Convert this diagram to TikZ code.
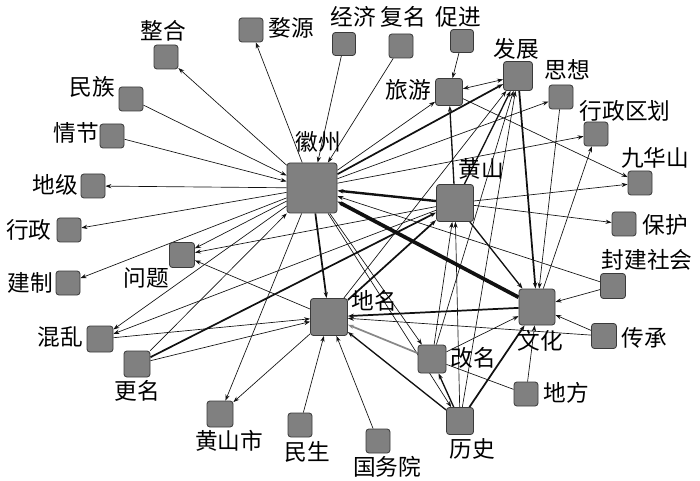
\documentclass[tikz,border=0pt]{standalone}
\usepackage{fontspec}
\usepackage{tikz}
\usetikzlibrary{arrows.meta, backgrounds}
\newfontfamily\cjk{Noto Sans CJK SC}
\definecolor{kGrey}{HTML}{808080}
\definecolor{kEdge}{HTML}{3A3A3A}
\definecolor{kLink}{HTML}{111111}

\begin{document}
\begin{tikzpicture}[x=0.75pt, y=-0.75pt, >={Stealth[length=4.5pt, width=3.2pt]},
    kw/.style={draw=kEdge, fill=kGrey, line width=0.6pt, rounded corners=2.2pt,
               inner sep=0pt, minimum size=#1*0.75pt},
    lbl/.style={font=\cjk\fontsize{17}{19}\selectfont, inner sep=0pt},
    link/.style={->, kLink, line width=#1}]
  \useasboundingbox (0,0) rectangle (700,481);
  % keyword boxes (name/x/y/size) and their labels (x/y/text)
  \foreach \n/\px/\py/\s/\lx/\ly/\t in {
      huizhou/312/188/50/318/142/徽州, huangshan/455/203/37/481/169/黄山,
      diming/329/317/37/374/301/地名, wenhua/537/307/36/540/341/文化,
      fazhan/518/76/29/516/49/发展, lvyou/449/92/27/408/90/旅游,
      wuyuan/251/30/24/291/28/婺源, jingji/344/44/23/353/17/经济,
      fuming/401/46/24/403/17/复名, cujin/462/41/23/458/17/促进,
      zhenghe/166/57/24/163/31/整合, minzu/131/99/24/92/87/民族,
      qingjie/112/136/24/76/133/情节, diji/93/186/24/55/185/地级,
      xingzheng/69/230/24/29/230/行政, jianzhi/68/283/24/30/283/建制,
      wenti/182/255/25/146/278/问题, hunluan/100/339/26/60/337/混乱,
      gengming/137/364/26/137/391/更名, hsshi/220/414/26/229/441/黄山市,
      minsheng/300/425/24/307/452/民生, guowuyuan/378/441/24/387/467/国务院,
      lishi/460/421/27/472/449/历史, gaiming/432/359/28/473/358/改名,
      difang/526/394/24/566/393/地方, chuancheng/604/336/25/644/338/传承,
      fengjian/613/286/25/647/260/封建社会, baohu/624/224/24/665/225/保护,
      jiuhua/640/183/24/655/158/九华山, quhua/596/134/24/625/111/行政区划,
      sixiang/561/97/24/567/70/思想}{
    \node[kw=\s] (\n) at (\px,\py) {};
    \node[lbl] (\n-l) at (\lx,\ly) {\t};
  }
  \begin{scope}[on background layer]
    % links, arrow at the second node
    \foreach \a/\b/\w in {
        huizhou/wuyuan/0.5, jingji/huizhou/0.5, fuming/huizhou/0.5,
        huizhou/zhenghe/0.5, minzu/huizhou/0.5, qingjie/huizhou/0.5,
        huizhou/diji/0.5, huizhou/xingzheng/0.5, huizhou/jianzhi/0.5,
        huizhou/wenti/0.5, huizhou/hunluan/0.5, gengming/huizhou/0.5,
        huizhou/hsshi/0.5, huizhou/diming/1.3, wenhua/huizhou/2.8,
        huangshan/huizhou/1.8, huizhou/lvyou/0.5, huizhou/fazhan/1.3,
        huizhou/sixiang/0.5, huizhou/quhua/0.5, fengjian/huizhou/0.5,
        huizhou/gaiming/0.5, huizhou/lishi/0.5,
        huangshan/wenti/0.5, huangshan/hunluan/0.5, gengming/huangshan/1.3,
        gengming/diming/0.5, hunluan/diming/0.5, diming/hsshi/0.5,
        minsheng/diming/0.5, guowuyuan/diming/0.5, wenhua/diming/1.3,
        chuancheng/diming/0.5, lishi/diming/1, diming/huangshan/1.3,
        diming/wenti/0.5, diming/fazhan/0.5,
        huangshan/lvyou/1, huangshan/fazhan/1, huangshan/jiuhua/0.5,
        huangshan/baohu/0.5, huangshan/wenhua/1, lishi/huangshan/0.5,
        gaiming/huangshan/0.5, lishi/wenhua/1.3, lishi/gaiming/1,
        lishi/fazhan/0.5, gaiming/wenhua/0.5, gaiming/fazhan/0.5,
        difang/wenhua/0.5, chuancheng/wenhua/0.5, fengjian/wenhua/0.5,
        fazhan/wenhua/1.3, sixiang/wenhua/0.5, wenhua/quhua/0.5,
        cujin/lvyou/0.5, lvyou/jiuhua/0.5}
      \draw[link=\w] (\a) -- (\b);
    \draw[link=1.3, kLink!50] (gaiming) -- (diming);
    \draw[<->, kLink, line width=0.5pt] (fazhan) -- (lvyou);
    \draw[kLink, line width=0.5pt] (gaiming) -- (difang);
  \end{scope}
\end{tikzpicture}
\end{document}
